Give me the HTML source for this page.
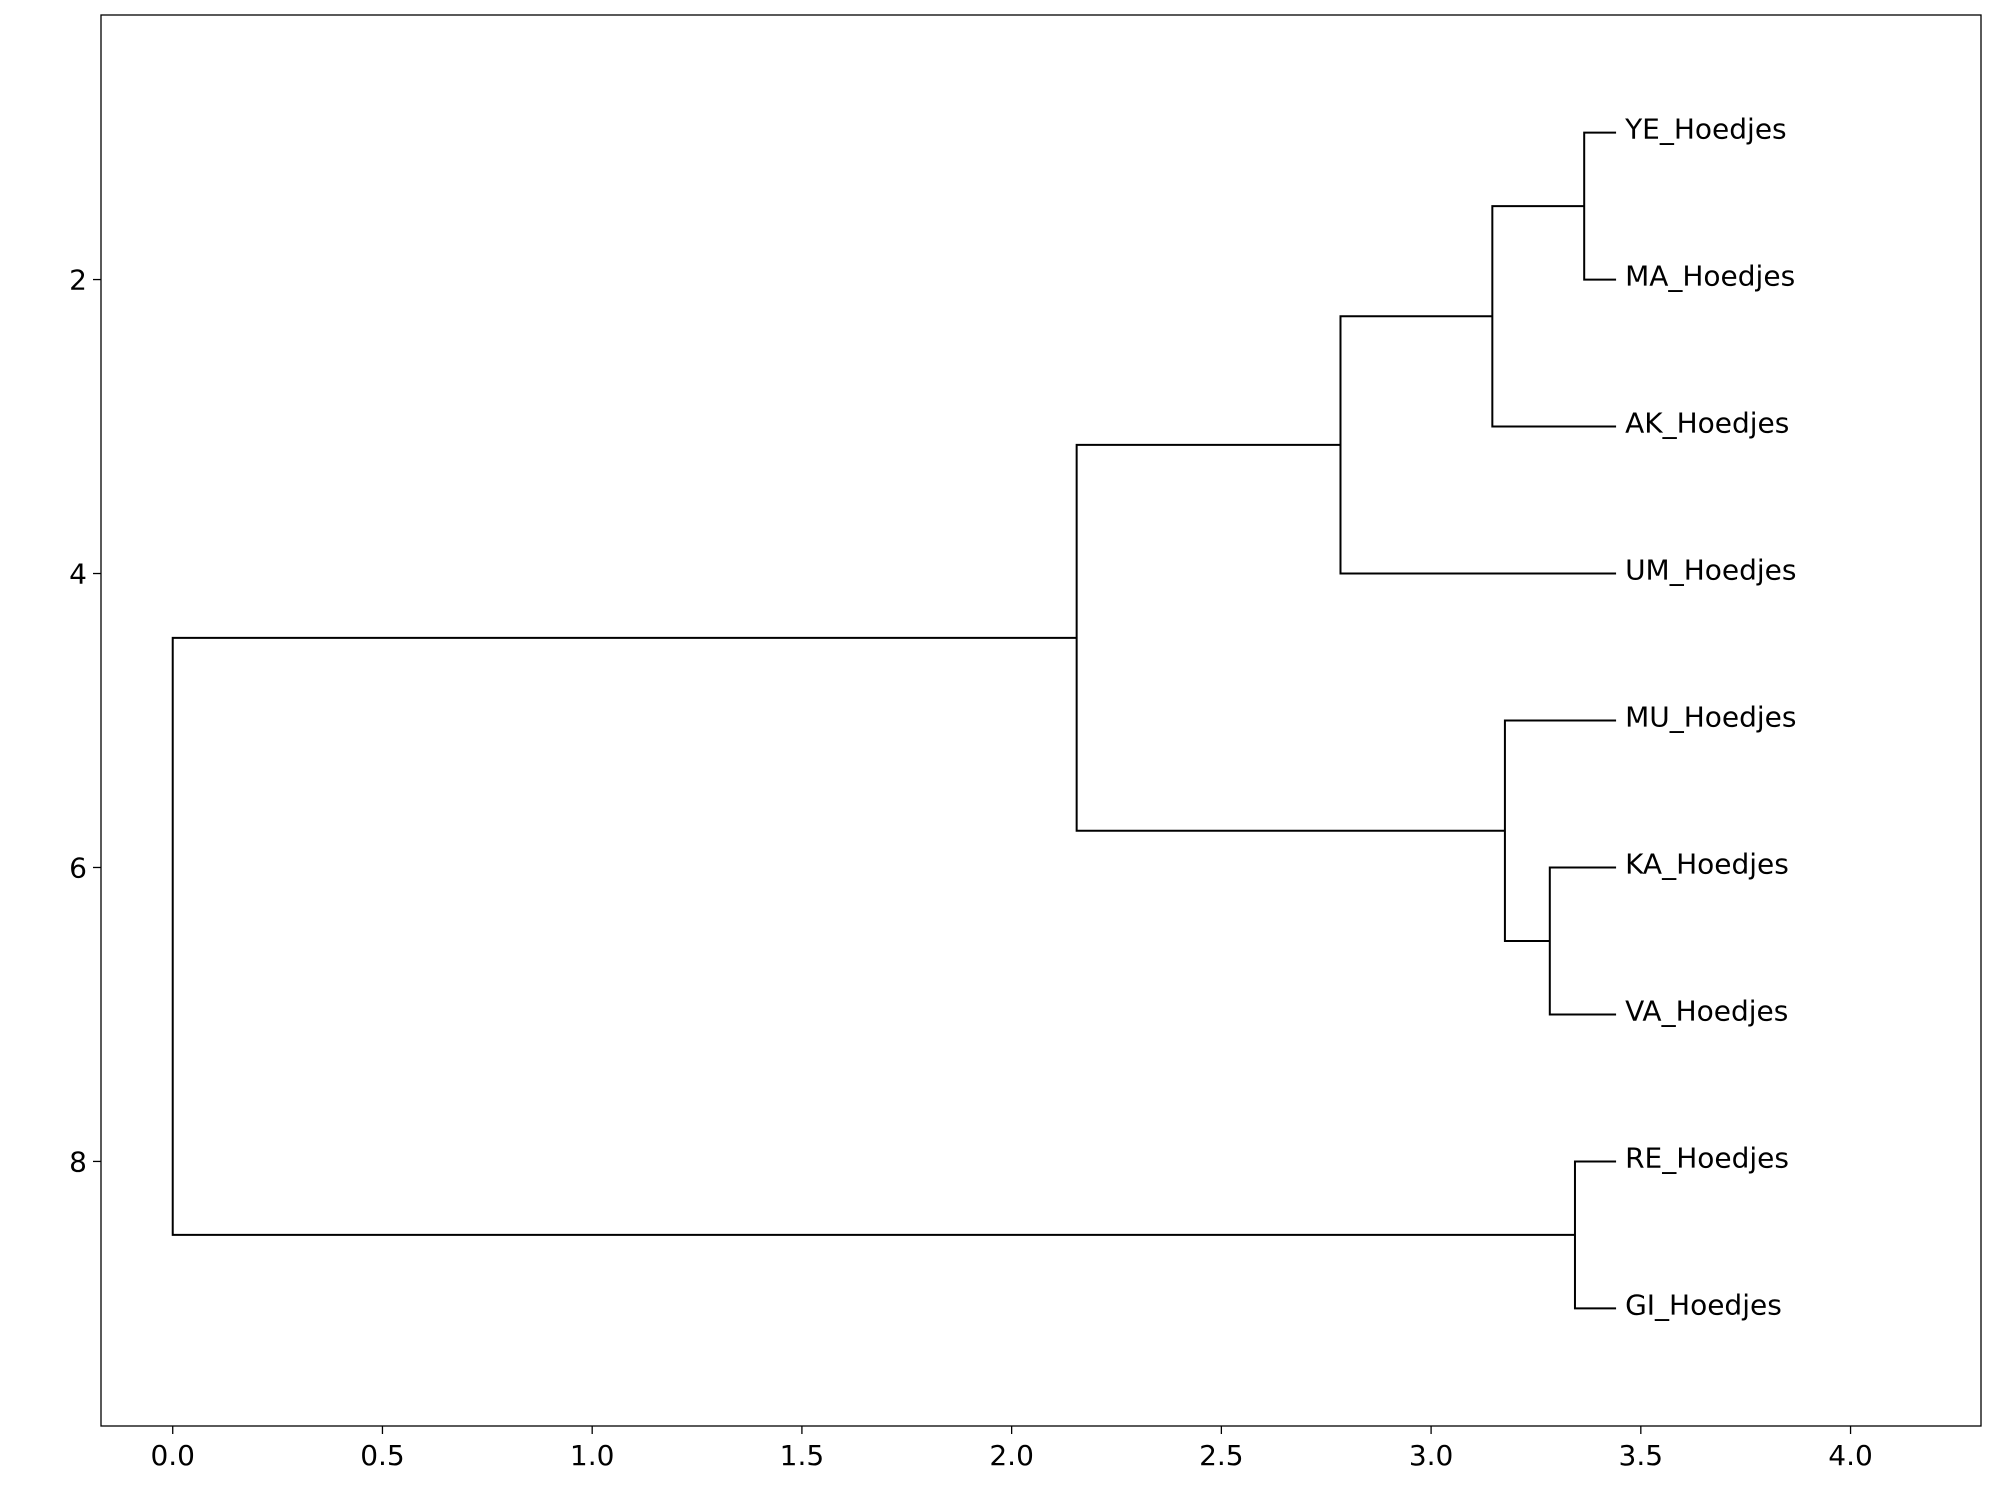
<!DOCTYPE html>
<html><head><meta charset="utf-8"><style>
html,body{margin:0;padding:0;background:#fff}
svg{display:block}
text{font-family:"DejaVu Sans","Liberation Sans",sans-serif;fill:#000}
</style></head><body>
<svg id="chart" width="2000" height="1500" xmlns="http://www.w3.org/2000/svg">
<rect x="0" y="0" width="2000" height="1500" fill="#fff"/>
<g id="marks"></g>
<g id="labels"></g>
<g id="xaxis"></g>
<g id="yaxis"></g>
<rect x="101" y="15" width="1880" height="1411" fill="none" stroke="#000" stroke-width="1.3"/>
</svg>
<script>
const leafNames = ["YE_Hoedjes","MA_Hoedjes","AK_Hoedjes","UM_Hoedjes","MU_Hoedjes","KA_Hoedjes","VA_Hoedjes","RE_Hoedjes","GI_Hoedjes"];
const leafPositions = [1,2,3,4,5,6,7,8,9];
const leafDistance = 3.441;
// merges: [childA index, childB index, height]; indices >= 9 refer to earlier merges
const mergeA = [0, 9, 10, 5, 4, 7, 11];
const mergeB = [1, 2, 3, 6, 12, 8, 13];
const mergeHeight = [3.365, 3.146, 2.784, 3.283, 3.176, 3.343, 2.155];
const rootA = 14, rootB = 15, rootHeight = 0.0;
const xTicks = [0.0,0.5,1.0,1.5,2.0,2.5,3.0,3.5,4.0];
const xTickLabels = ["0.0","0.5","1.0","1.5","2.0","2.5","3.0","3.5","4.0"];
const yTicks = [2,4,6,8];
const yTickLabels = ["2","4","6","8"];

const L=101,R=1981,T=15,B=1426;
const xMin=-0.171,xMax=4.311,yMin=0.2,yMax=9.8;
const X=v=>L+(v-xMin)/(xMax-xMin)*(R-L);
const Y=v=>T+(v-yMin)/(yMax-yMin)*(B-T);
const NS="http://www.w3.org/2000/svg";
function mk(tag,attrs,parent){const e=document.createElementNS(NS,tag);for(const k in attrs)e.setAttribute(k,attrs[k]);parent.appendChild(e);return e;}

const nodeX=[], nodeY=[];
for(let i=0;i<leafNames.length;i++){nodeX.push(leafDistance);nodeY.push(leafPositions[i]);}
const marks=document.getElementById('marks');
function link(a,b,h,name){
  const d=`M${X(nodeX[a])},${Y(nodeY[a])}L${X(h)},${Y(nodeY[a])}L${X(h)},${Y(nodeY[b])}L${X(nodeX[b])},${Y(nodeY[b])}`;
  const p=mk('path',{d:d,fill:'none',stroke:'#000','stroke-width':2},marks);
  
  
  nodeX.push(h);nodeY.push((nodeY[a]+nodeY[b])/2);
}
for(let i=0;i<mergeA.length;i++) link(mergeA[i],mergeB[i],mergeHeight[i],'merge-link-'+(i+1));
link(rootA,rootB,rootHeight,'root-link');

const labels=document.getElementById('labels');
for(let i=0;i<leafNames.length;i++){
  const t=mk('text',{x:X(leafDistance)+9,y:Y(leafPositions[i])+6,'font-size':28},labels);
  t.textContent=leafNames[i];
  
  
}
const xa=document.getElementById('xaxis');
xTicks.forEach((v,i)=>{
  mk('line',{x1:X(v),x2:X(v),y1:B,y2:B+8,stroke:'#000','stroke-width':1.3},xa);
  const t=mk('text',{x:X(v),y:B+39,'font-size':28,'text-anchor':'middle'},xa);
  t.textContent=xTickLabels[i];
  
  
});
const ya=document.getElementById('yaxis');
yTicks.forEach((v,i)=>{
  mk('line',{x1:L-8,x2:L,y1:Y(v),y2:Y(v),stroke:'#000','stroke-width':1.3},ya);
  const t=mk('text',{x:L-14,y:Y(v)+10,'font-size':28,'text-anchor':'end'},ya);
  t.textContent=yTickLabels[i];
  
  
});
</script>
</body></html>
